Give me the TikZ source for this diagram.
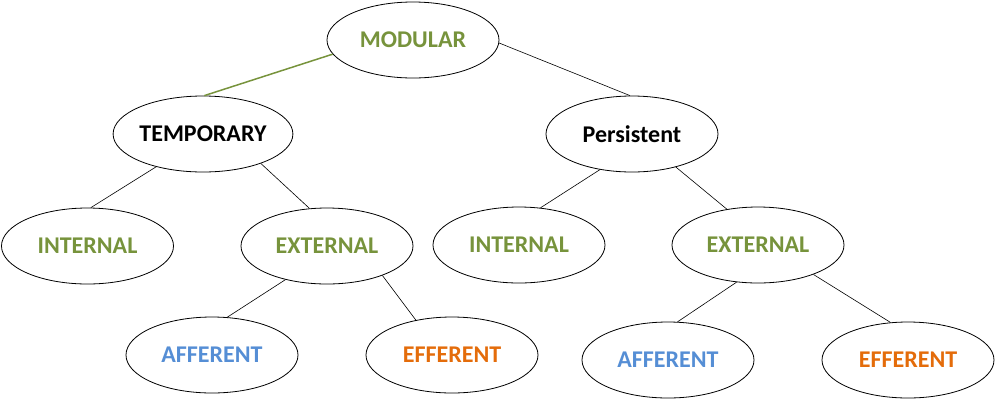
\documentclass[tikz,border=0pt]{standalone}
\usepackage{fontspec}
\setmainfont{Carlito}
\usetikzlibrary{shapes.geometric}
\definecolor{olive}{HTML}{77933C}
\definecolor{skyblue}{HTML}{558ED5}
\definecolor{burnt}{HTML}{E46C0A}
\tikzset{
  oval/.style={ellipse, draw=black, line width=0.8pt, fill=white, minimum width=172pt, minimum height=76pt, inner sep=0pt, font=\fontsize{24}{28}\selectfont\bfseries},
  link/.style={draw=black, line width=0.6pt},
  glink/.style={draw=olive, line width=1.5pt}
}
\begin{document}
\begin{tikzpicture}[x=1pt,y=-1pt]
\useasboundingbox (0,0) rectangle (996,400);
\node[oval, text=olive] (mod) at (413,40) {MODULAR};
\node[oval, text=black] (temp) at (203,134) {TEMPORARY};
\node[oval, text=black] (pers) at (632,134) {Persistent};
\node[oval, text=olive] (intL) at (87.5,246) {INTERNAL};
\node[oval, text=olive] (extL) at (327,246) {EXTERNAL};
\node[oval, text=skyblue] (affL) at (212,355) {AFFERENT};
\node[oval, text=burnt] (effL) at (452,355) {EFFERENT};
\node[oval, text=olive] (intR) at (519,245) {INTERNAL};
\node[oval, text=olive] (extR) at (758,245) {EXTERNAL};
\node[oval, text=skyblue] (affR) at (668,360) {AFFERENT};
\node[oval, text=burnt] (effR) at (908,360) {EFFERENT};
\draw[glink] (mod.190) -- (temp.88);
\draw[link] (mod.358) -- (pers.93);
\draw[link] (temp.215) -- (intL.85);
\draw[link] (temp.333) -- (extL.115);
\draw[link] (extL.219) -- (affL.68);
\draw[link] (extL.332) -- (effL.136);
\draw[link] (pers.228) -- (intR.60);
\draw[link] (pers.323) -- (extR.131);
\draw[link] (extR.240) -- (affR.76);
\draw[link] (extR.332) -- (effR.115);
\end{tikzpicture}
\end{document}
